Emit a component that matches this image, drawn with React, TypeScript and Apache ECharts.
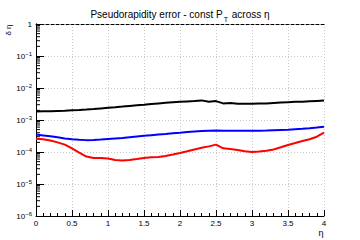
import React, { useEffect, useRef } from "react";
import * as echarts from "echarts";

const etas = [0, 0.1, 0.2, 0.3, 0.4, 0.5, 0.6, 0.7, 0.8, 0.9, 1.0, 1.1, 1.2, 1.3, 1.4, 1.5, 1.6, 1.7, 1.8, 1.9, 2.0, 2.1, 2.2, 2.3, 2.4, 2.5, 2.6, 2.7, 2.8, 2.9, 3.0, 3.1, 3.2, 3.3, 3.4, 3.5, 3.6, 3.7, 3.8, 3.9, 4.0];

// δη values
const blackVals = [1.85e-3, 1.87e-3, 1.88e-3, 1.92e-3, 1.95e-3, 2.0e-3, 2.05e-3, 2.12e-3, 2.2e-3, 2.3e-3, 2.4e-3, 2.5e-3, 2.62e-3, 2.75e-3, 2.88e-3, 3.0e-3, 3.15e-3, 3.3e-3, 3.45e-3, 3.6e-3, 3.7e-3, 3.8e-3, 3.9e-3, 4.1e-3, 3.7e-3, 3.9e-3, 3.3e-3, 3.4e-3, 3.2e-3, 3.2e-3, 3.2e-3, 3.25e-3, 3.3e-3, 3.4e-3, 3.5e-3, 3.6e-3, 3.7e-3, 3.75e-3, 3.85e-3, 3.95e-3, 4.05e-3];
const blueVals = [3.5e-4, 3.3e-4, 3.1e-4, 2.9e-4, 2.65e-4, 2.5e-4, 2.4e-4, 2.35e-4, 2.38e-4, 2.45e-4, 2.55e-4, 2.65e-4, 2.75e-4, 2.9e-4, 3.05e-4, 3.2e-4, 3.35e-4, 3.5e-4, 3.65e-4, 3.85e-4, 4.0e-4, 4.2e-4, 4.4e-4, 4.55e-4, 4.65e-4, 4.7e-4, 4.65e-4, 4.6e-4, 4.6e-4, 4.6e-4, 4.6e-4, 4.65e-4, 4.7e-4, 4.8e-4, 4.9e-4, 5.0e-4, 5.15e-4, 5.3e-4, 5.5e-4, 5.8e-4, 6.2e-4];
const redVals = [2.6e-4, 2.5e-4, 2.3e-4, 2.0e-4, 1.7e-4, 1.3e-4, 9.5e-5, 7.2e-5, 6.5e-5, 6.5e-5, 6.3e-5, 5.6e-5, 5.4e-5, 5.6e-5, 6.0e-5, 6.5e-5, 6.8e-5, 7.0e-5, 7.5e-5, 8.3e-5, 9.3e-5, 1.05e-4, 1.2e-4, 1.35e-4, 1.5e-4, 1.7e-4, 1.3e-4, 1.25e-4, 1.15e-4, 1.05e-4, 1.0e-4, 1.03e-4, 1.1e-4, 1.2e-4, 1.4e-4, 1.65e-4, 1.9e-4, 2.2e-4, 2.5e-4, 3.0e-4, 4.0e-4];

const decades = [-6, -5, -4, -3, -2, -1];
const minorMantissas = [2, 3, 4, 5, 6, 7, 8, 9];

const FONT = "Liberation Sans, Arial, Helvetica, sans-serif";

export default function App() {
  const ref = useRef<HTMLDivElement>(null);
  useEffect(() => {
    if (!ref.current) return;
    const chart = echarts.init(ref.current, undefined, { renderer: "svg" });
    const pairs = (vals: number[]) => etas.map((e, i) => [e, vals[i]]);
    const minorTicks: number[][] = [];
    decades.forEach((d) => minorMantissas.forEach((m) => minorTicks.push([0, m * Math.pow(10, d)])));
    const lineSeries = (vals: number[], color: string) => ({
      type: "line",
      data: pairs(vals),
      showSymbol: false,
      lineStyle: { color, width: 2 },
      itemStyle: { color },
      z: 5,
    });
    chart.setOption({
      animation: false,
      backgroundColor: "#fff",
      textStyle: { fontFamily: FONT },
      title: {
        text: "Pseudorapidity error - const P{sub|T} across η",
        left: "center",
        top: 1,
        textStyle: {
          fontFamily: FONT,
          fontSize: 10,
          fontWeight: "normal",
          color: "#000",
          rich: {
            sub: { fontSize: 7, padding: [10, 1, 0, 1], fontFamily: FONT, color: "#000" },
          },
        },
      },
      grid: { left: 36, right: 36, top: 24, bottom: 24 },
      xAxis: [
        {
          type: "value",
          min: 0,
          max: 4,
          interval: 0.5,
          axisLine: { lineStyle: { color: "#000", width: 1 } },
          axisTick: { inside: true, length: 6, lineStyle: { color: "#000" } },
          minorTick: { show: true, splitNumber: 5, length: 3, lineStyle: { color: "#000" } },
          axisLabel: { fontSize: 8, color: "#000", margin: 3, fontFamily: FONT },
          splitLine: { show: true, lineStyle: { color: "#c8c8c8", type: [1, 2] } },
        },
        {
          type: "value",
          position: "top",
          min: 0,
          max: 4,
          axisLine: { show: true, lineStyle: { color: "#000", type: [3, 2] } },
          axisTick: { show: false },
          axisLabel: { show: false },
          splitLine: { show: false },
        },
      ],
      yAxis: [
        {
          type: "log",
          logBase: 10,
          min: 1e-6,
          max: 1,
          axisLine: { show: true, lineStyle: { color: "#000", width: 1 } },
          axisTick: { show: true, inside: true, length: 8, lineStyle: { color: "#000" } },
          axisLabel: {
            fontSize: 8,
            color: "#000",
            margin: 4,
            fontFamily: FONT,
            formatter: (v: number) => {
              const k = Math.round(Math.log10(v));
              if (k === 0) return "1";
              return "10{sup|−" + -k + "}";
            },
            rich: {
              sup: { fontSize: 6, padding: [0, 0, 5, 0], fontFamily: FONT, color: "#000" },
            },
          },
          splitLine: { show: true, lineStyle: { color: "#c8c8c8", type: [1, 2] } },
        },
        {
          type: "log",
          logBase: 10,
          min: 1e-6,
          max: 1,
          position: "right",
          axisLine: { show: true, lineStyle: { color: "#000", type: [3, 2] } },
          axisTick: { show: false },
          axisLabel: { show: false },
          splitLine: { show: false },
        },
      ],
      graphic: [
        {
          type: "text",
          x: 8,
          y: 30,
          rotation: Math.PI / 2,
          style: { text: "δ η", fontSize: 8, fill: "#000", fontFamily: FONT, textAlign: "center", textVerticalAlign: "middle" },
        },
        {
          type: "text",
          x: 321,
          y: 233,
          style: { text: "η", fontSize: 9, fill: "#000", fontFamily: FONT, textAlign: "center", textVerticalAlign: "middle" },
        },
      ],
      series: [
        {
          type: "custom",
          data: minorTicks,
          silent: true,
          renderItem: (params: any, api: any) => {
            const p = api.coord([0, api.value(1)]);
            return {
              type: "line",
              shape: { x1: p[0], y1: p[1], x2: p[0] + 4, y2: p[1] },
              style: { stroke: "#000", lineWidth: 1 },
            };
          },
          z: 3,
        },
        lineSeries(blackVals, "#000000"),
        lineSeries(blueVals, "#0000ff"),
        lineSeries(redVals, "#ff0000"),
      ],
    });
    return () => chart.dispose();
  }, []);
  return <div ref={ref} style={{ width: 360, height: 240, position: "absolute", left: 0, top: 0 }} />;
}
